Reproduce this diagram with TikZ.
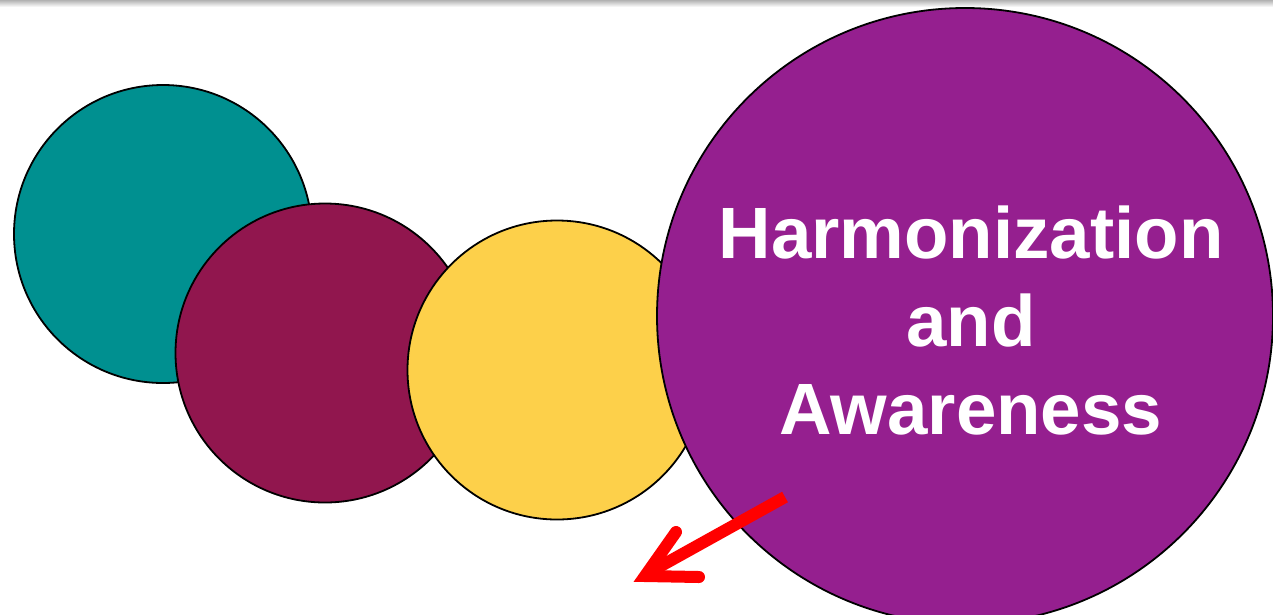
\documentclass[tikz,border=0pt]{standalone}
\usepackage{fontspec}
\setmainfont{Liberation Sans}
\definecolor{cteal}{RGB}{0,144,144}
\definecolor{cmaroon}{RGB}{145,22,78}
\definecolor{cyellow}{RGB}{253,208,74}
\definecolor{cpurple}{RGB}{149,31,143}
\definecolor{cred}{RGB}{255,0,0}
\begin{document}
\begin{tikzpicture}[x=1pt,y=-1pt,
  ball/.style={circle,draw=black,line width=1.8pt,inner sep=0pt},
  redarrow/.style={draw=cred,line width=12pt}]
\useasboundingbox (0,0) rectangle (1273,614);
\fill[white] (0,0) rectangle (1273,614);
\shade[top color=black!30,bottom color=white] (0,0) rectangle (1273,7);
\node[ball,fill=cteal,minimum size=298pt] (teal) at (163,234) {};
\node[ball,fill=cmaroon,minimum size=299pt] (maroon) at (325,353) {};
\node[ball,fill=cyellow,minimum size=299pt] (yellow) at (557,370) {};
\node[ball,fill=cpurple,minimum size=616pt] (purple) at (965,316) {};
\node[text=white,font=\fontsize{72.7}{88}\selectfont\bfseries,align=center] (label) at (971,321) {Harmonization\\and\\Awareness};
\coordinate (s) at (785,497);
\coordinate (t) at (650,572);
\draw[redarrow,line cap=butt] (s) -- (t);
\draw[redarrow,line cap=round,line join=miter] (676,532) -- (645,576) -- (699,577);
\end{tikzpicture}
\end{document}
